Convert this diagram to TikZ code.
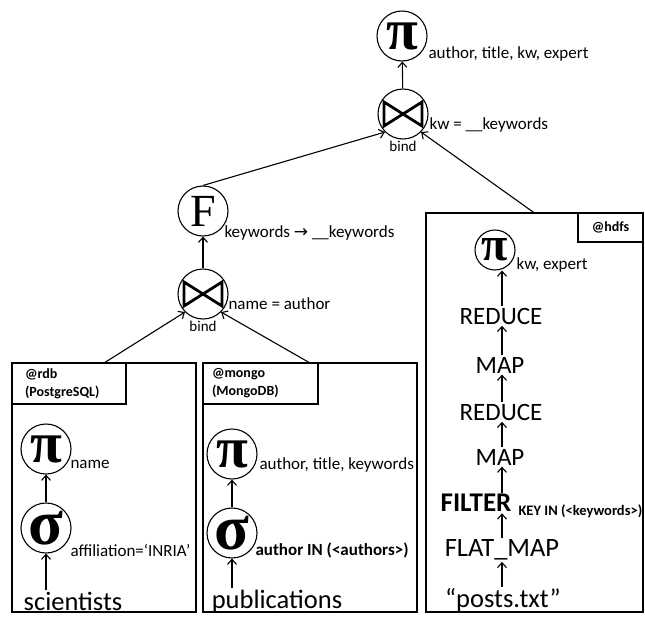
\documentclass[tikz,border=0pt]{standalone}
\usepackage{fontspec}
\setmainfont{Carlito}
\newfontfamily\opfont{Liberation Serif}
\newfontfamily\symfont{DejaVu Sans}
\usetikzlibrary{positioning,calc,arrows.meta}

\newcommand\oppi{{\bfseries π}}
\newcommand\opsigma{{\bfseries\fontsize{64}{64}\selectfont σ}}

\tikzset{
  op/.style={draw, circle, line width=1.1pt, minimum size=50pt, inner sep=0pt,
    font=\opfont\fontsize{58}{58}\selectfont},
  smallop/.style={op, minimum size=40pt, font=\opfont\fontsize{48}{48}\selectfont},
  joinop/.style={op, path picture={
    \draw[line width=2.8pt, line join=miter]
      ([shift={(-19pt,-12pt)}]path picture bounding box.center) -- ++(0pt,24pt)
      -- ++(38pt,-24pt) -- ++(0pt,24pt) -- cycle;}},
  lbl/.style={anchor=west, inner sep=0pt, font=\fontsize{17}{19}\selectfont},
  boldlbl/.style={lbl, font=\bfseries\fontsize{17}{19}\selectfont},
  bindlbl/.style={inner sep=0pt, font=\fontsize{15}{17}\selectfont},
  sitebox/.style={draw, line width=2.4pt, outer sep=0pt, inner sep=0pt},
  tagbox/.style={draw, line width=1.1pt, outer sep=0pt, inner sep=5pt, align=left,
    font=\bfseries\fontsize{14}{18}\selectfont},
  dataword/.style={inner sep=1pt, font=\fontsize{26.5}{28}\selectfont},
  mrword/.style={inner sep=1pt, font=\fontsize{25}{27}\selectfont},
}

\begin{document}
\begin{tikzpicture}[x=1pt, y=-1pt, line width=1.1pt,
    >={Straight Barb[length=5pt,width=9pt]}]
\useasboundingbox (0,0) rectangle (645,619);

% mediator plan
\node[op] (pitop) at (402,36) {\oppi};
\node[lbl] at (428,54) {author, title, kw, expert};
\node[joinop] (jtop) at (403,114) {};
\node[lbl] at (429,125) {kw = \_\_keywords};
\node[bindlbl] at (403,146) {bind};

\node[op, font=\opfont\fontsize{46}{46}\selectfont] (fn) at (203,211) {F};
\node[lbl] at (224,233) {keywords {\symfont →} \_\_keywords};
\node[joinop] (jmid) at (203,294) {};
\node[lbl] at (228,304) {name = author};
\node[bindlbl] at (203,326) {bind};

\draw[->] (jtop) -- (pitop);
\draw[->] (jmid) -- (fn);
\draw[->] (fn.north) -- (jtop.-135);

% stores
\node[sitebox, minimum width=184pt, minimum height=249pt] (rdb) at (104,487.5) {};
\node[tagbox, anchor=north west, inner xsep=13pt, text width=88pt, minimum height=41pt] at (rdb.north west) {@rdb\\(PostgreSQL)};
\node[sitebox, minimum width=214pt, minimum height=249pt] (mongo) at (310,487.5) {};
\node[tagbox, anchor=north west, inner xsep=9pt, text width=97pt, minimum height=41pt] at (mongo.north west) {@mongo\\(MongoDB)};
\node[sitebox, minimum width=217pt, minimum height=399pt] (hdfs) at (534.5,412.5) {};
\node[tagbox, anchor=north east, align=center, minimum width=65pt, minimum height=29pt, inner sep=2pt] at (hdfs.north east) {@hdfs};

\draw[->] (rdb.north) -- (jmid.-135);
\draw[->] (mongo.north) -- (jmid.-45);
\draw[->] (hdfs.north) -- (jtop.-45);

% @rdb
\node[op] (pirdb) at (46,449) {\oppi};
\node[lbl] at (70,464) {name};
\node[op] (sigrdb) at (46,528) {\opsigma};
\node[lbl] at (70,550) {affiliation=‘INRIA’};
\node[dataword] (sci) at (73,601) {scientists};
\draw[->] (sci.north -| sigrdb) -- (sigrdb);
\draw[->] (sigrdb) -- (pirdb);

% @mongo
\node[op] (pimongo) at (232,454) {\oppi};
\node[lbl] at (259,465) {author, title, keywords};
\node[op] (sigmongo) at (232,533) {\opsigma};
\node[boldlbl] at (255,550) {author IN (<authors>)};
\node[dataword] (pubs) at (277,601) {publications};
\draw[->] (pubs.north -| sigmongo) -- (sigmongo);
\draw[->] (sigmongo) -- (pimongo);

% @hdfs
\coordinate (spine) at (502,0);
\node[smallop] (pihdfs) at (495,250) {\oppi};
\node[lbl] at (516,265) {kw, expert};
\node[mrword] (red1) at (501,316) {REDUCE};
\node[mrword] (map1) at (500,365) {MAP};
\node[mrword] (red2) at (501,412) {REDUCE};
\node[mrword] (map2) at (500,457) {MAP};
\node[mrword, font=\bfseries\fontsize{27}{29}\selectfont] (filt) at (476,503) {FILTER};
\node[lbl, font=\bfseries\fontsize{14.5}{16}\selectfont] at (518,511) {KEY IN (<keywords>)};
\node[mrword, font=\fontsize{26.5}{28}\selectfont] (flat) at (502,550) {FLAT\_MAP};
\node[dataword] (posts) at (503,600) {“posts.txt”};

\draw[->] (red1.north -| spine) -- (pihdfs.south -| spine);
\draw[->] (map1.north -| spine) -- (red1.south -| spine);
\draw[->] (red2.north -| spine) -- (map1.south -| spine);
\draw[->] (map2.north -| spine) -- (red2.south -| spine);
\draw[->] (filt.north -| spine) -- (map2.south -| spine);
\draw[->] (flat.north -| spine) -- (filt.south -| spine);
\draw[->] (posts.north -| spine) -- (flat.south -| spine);
\end{tikzpicture}
\end{document}
